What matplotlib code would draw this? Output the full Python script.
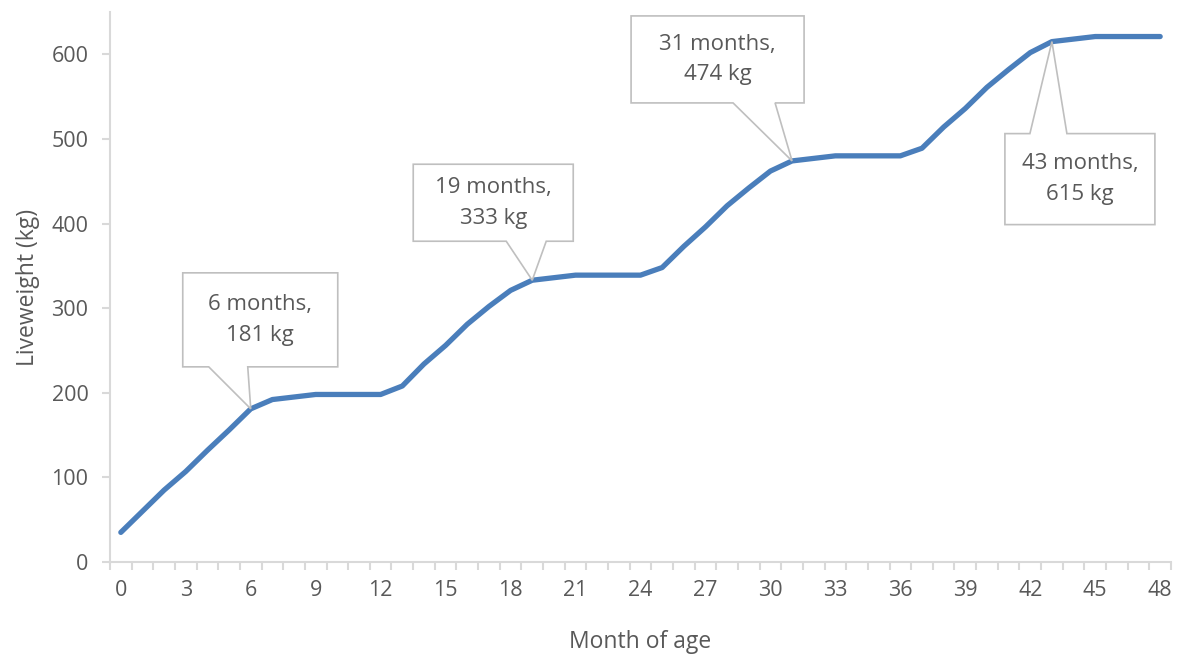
import matplotlib
matplotlib.use("Agg")
import matplotlib.pyplot as plt
from matplotlib.patches import Polygon
from matplotlib.transforms import IdentityTransform

months = list(range(0, 49))
liveweight = [35, 60, 85, 107, 132, 156, 181, 192, 195, 198, 198, 198, 198,
              208, 234, 256, 281, 302, 321, 333, 336, 339, 339, 339, 339,
              348, 373, 396, 421, 442, 462, 474, 477, 480, 480, 480, 480,
              489, 514, 536, 561, 582, 602, 615, 618, 621, 621, 621, 621]
x_tick_labels = [str(m) for m in range(0, 49, 3)]
y_ticks = [0, 100, 200, 300, 400, 500, 600]
callout_months = [6, 19, 31, 43]

# callout geometry in pixels relative to the tip (image coords: +y is down)
# (box_left, box_right, box_top, box_bottom, base_left, base_right)
callout_geom = [
    (-68, 87, -136, -42, -42, -3),
    (-119, 41, -116, -39, -26, 14),
    (-161, 12, -145, -58, -59, -17),
    (-47, 103, 92, 183, -22, 15),
]

plt.rcParams['font.family'] = ['Open Sans', 'DejaVu Sans']
TXT = '#595959'
AX = '#d9d9d9'

W, H, DPI = 1180, 654, 100
fig = plt.figure(figsize=(W / DPI, H / DPI), dpi=DPI)
ax = fig.add_axes([110 / W, (H - 562) / H, (1171 - 110) / W, (562 - 12) / H])

ax.plot(months, liveweight, color='#4a7ebb', lw=3.8, solid_capstyle='round',
        solid_joinstyle='round', zorder=3)

ax.set_xlim(-0.5, 48.5)
ax.set_ylim(0, 650)
for s in ['top', 'right']:
    ax.spines[s].set_visible(False)
for s in ['left', 'bottom']:
    ax.spines[s].set_color(AX)
    ax.spines[s].set_linewidth(1.5)

ax.set_xticks(list(range(0, 49, 3)))
ax.set_xticklabels(x_tick_labels)
ax.set_xticks([m - 0.5 for m in range(0, 50)], minor=True)
ax.tick_params(axis='x', which='major', length=0, pad=13, labelsize=15.5, labelcolor=TXT)
ax.tick_params(axis='x', which='minor', length=5.5, width=1.5, color=AX, direction='out')
ax.set_yticks(y_ticks)
ax.tick_params(axis='y', length=5.5, width=1.5, color=AX, pad=10, labelsize=15.5, labelcolor=TXT)

ax.set_xlabel('Month of age', fontsize=16.5, color=TXT, labelpad=21)
ax.set_ylabel('Liveweight (kg)', fontsize=16.5, color=TXT, labelpad=8)

fig.canvas.draw()
for m, g in zip(callout_months, callout_geom):
    v = liveweight[months.index(m)]
    tx, ty = ax.transData.transform((m, v))
    bl, br, bt, bb, b0, b1 = g
    top = ty - bt
    bot = ty - bb
    if bb < 0:  # box above tip; pointer from bottom edge
        verts = [(tx + bl, top), (tx + br, top), (tx + br, bot), (tx + b1, bot),
                 (tx, ty), (tx + b0, bot), (tx + bl, bot)]
    else:  # box below tip; pointer from top edge
        verts = [(tx + bl, top), (tx + b0, top), (tx, ty), (tx + b1, top),
                 (tx + br, top), (tx + br, bot), (tx + bl, bot)]
    poly = Polygon(verts, closed=True, facecolor='white', edgecolor='#bfbfbf',
                   lw=1.2, transform=IdentityTransform(), zorder=4)
    fig.add_artist(poly)
    cx = tx + (bl + br) / 2
    cy = (top + bot) / 2
    fig.text(cx / W, cy / H, f"{m} months,\n{v} kg", ha='center', va='center',
             fontsize=16, color=TXT, linespacing=1.6, zorder=5)

fig.savefig('out.png', dpi=DPI)
